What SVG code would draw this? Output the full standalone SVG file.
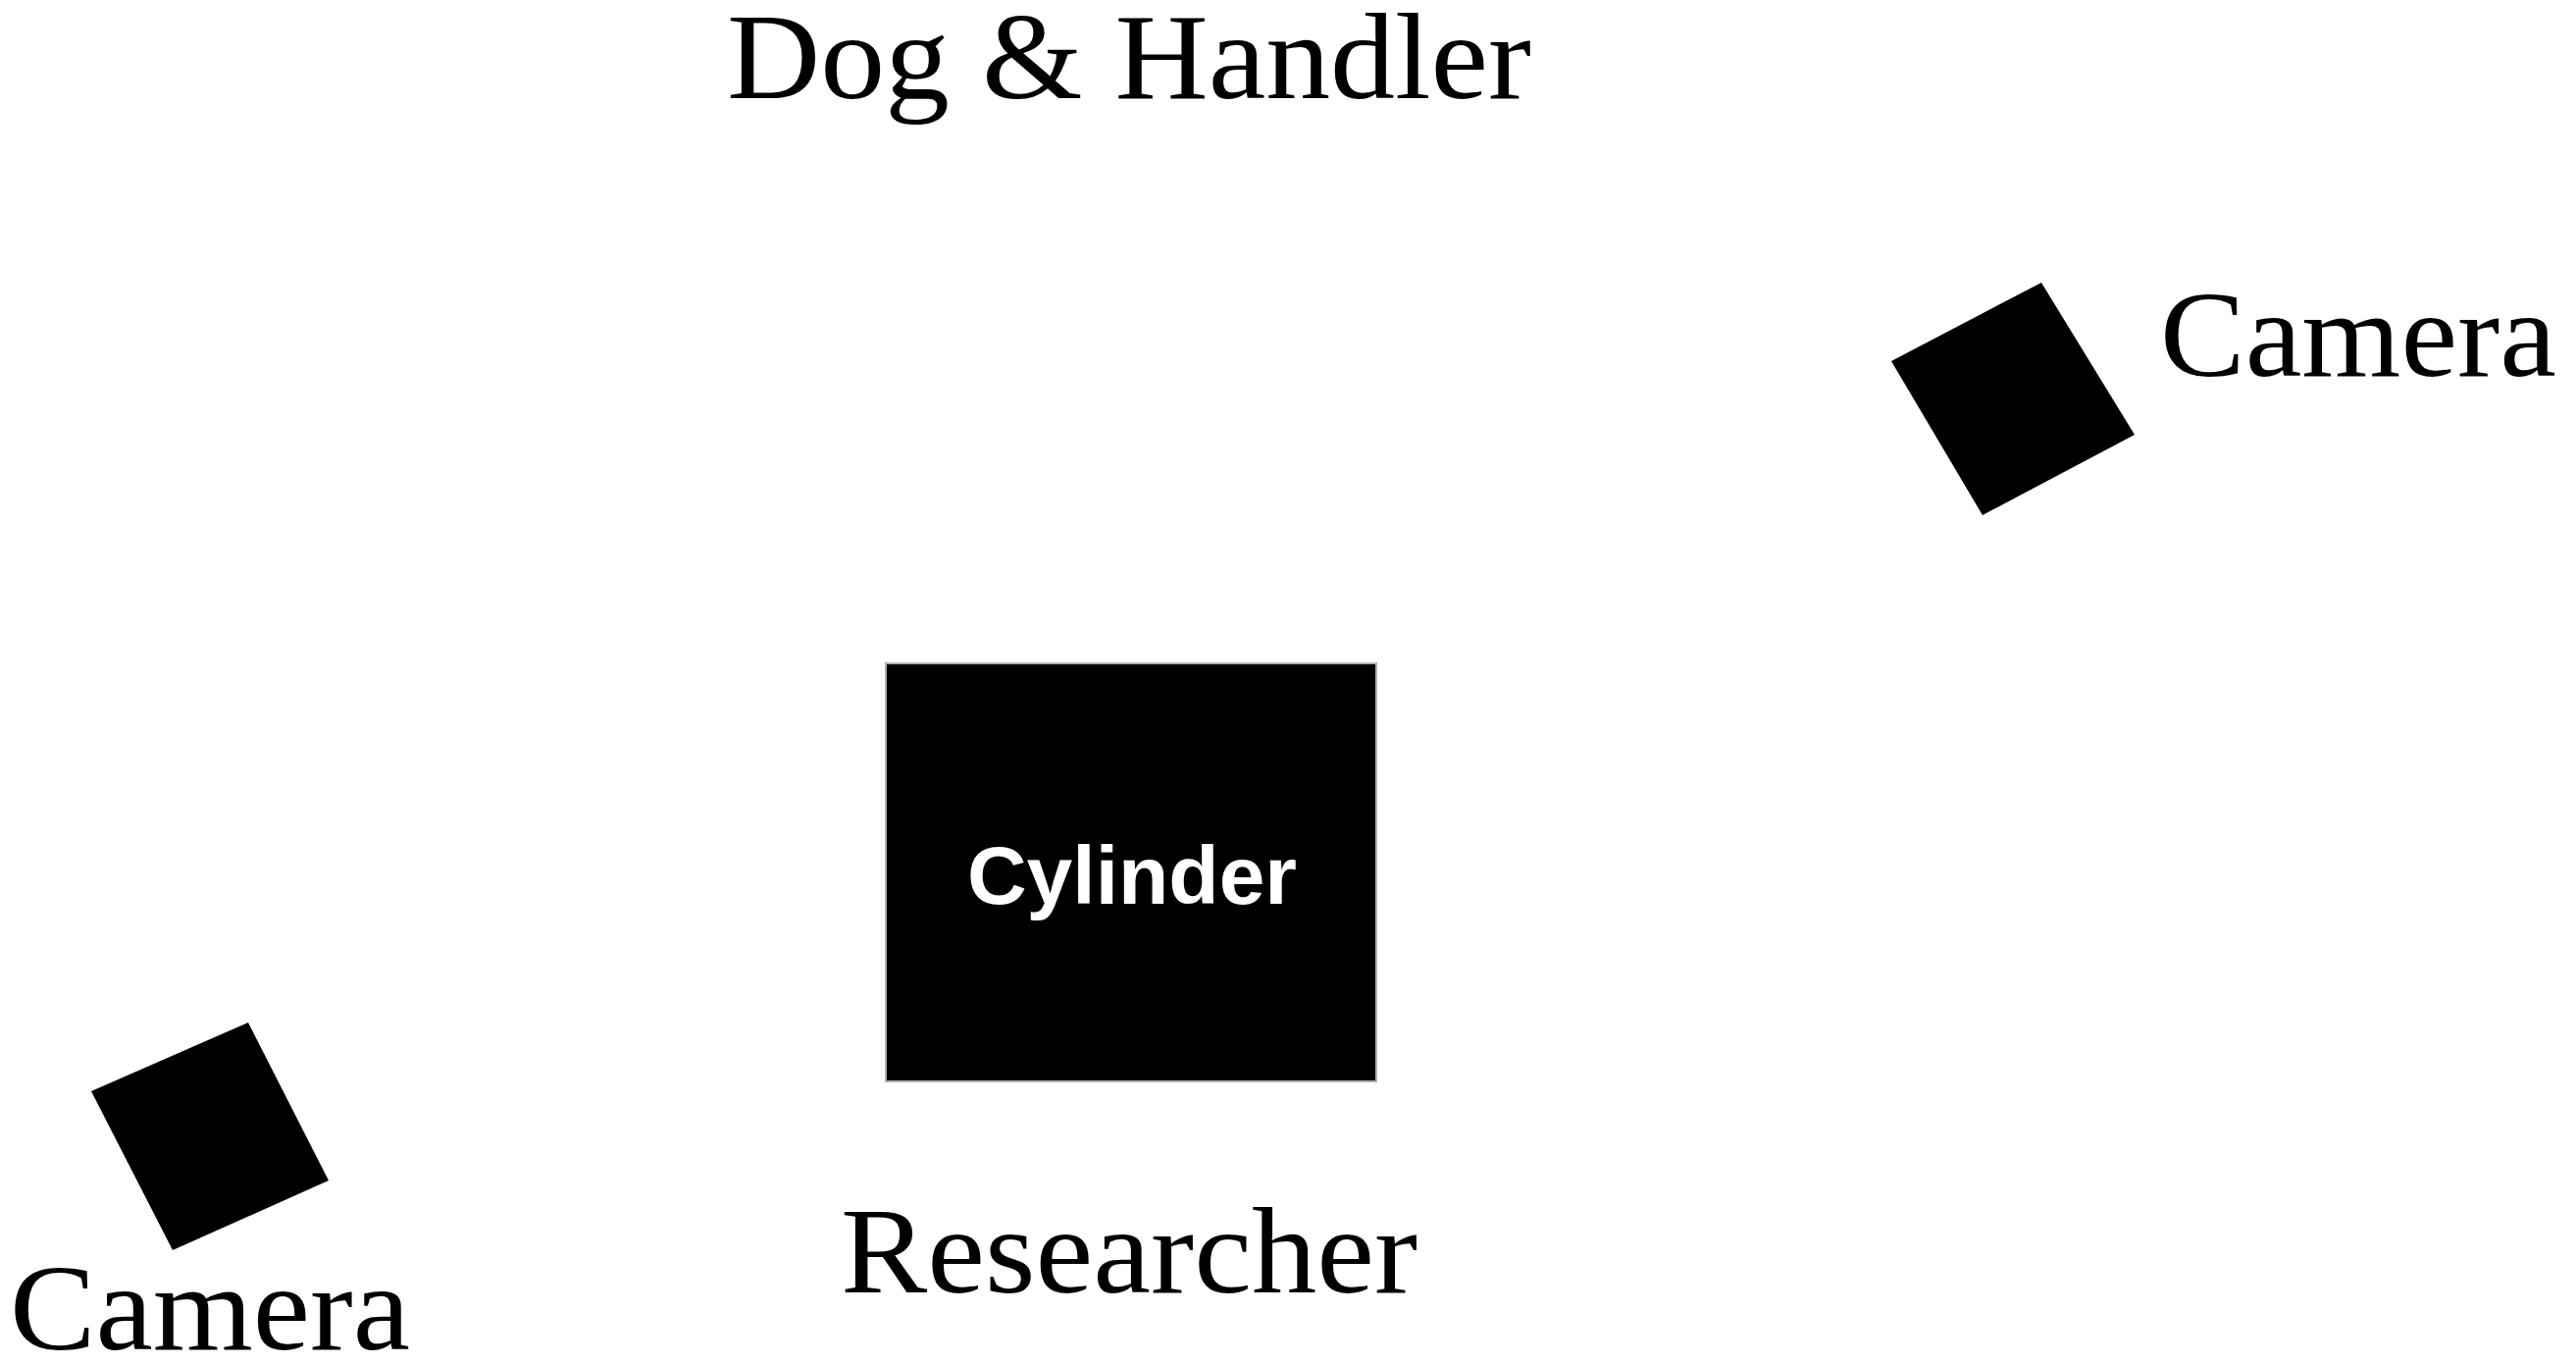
<svg xmlns="http://www.w3.org/2000/svg" width="2626" height="1391" viewBox="0 0 2626 1391">
  <style>
    .lbl { font-family: "Liberation Serif", "Times New Roman", serif; font-size: 124px; fill: #000; }
    .cam { fill: #000; }
    .cyl { fill: #000; stroke: #b0b0b0; stroke-width: 2; }
    .cyltxt { font-family: "Liberation Sans", Arial, sans-serif; font-size: 84px; font-weight: bold; fill: #fff; }
  </style>
  <rect x="0" y="0" width="2626" height="1391" fill="#fff"/>
  <g id="dog-handler">
    <text class="lbl" x="741" y="100" textLength="820" lengthAdjust="spacingAndGlyphs">Dog &amp; Handler</text>
  </g>
  <g id="camera-top-right">
    <polygon class="cam" points="2081,288 2176,443 2021,525 1928,368"/>
    <text class="lbl" x="2202" y="383" textLength="404" lengthAdjust="spacingAndGlyphs">Camera</text>
  </g>
  <g id="cylinder">
    <rect class="cyl" x="903" y="676" width="500" height="426"/>
    <text class="cyltxt" x="1154" y="921" text-anchor="middle">Cylinder</text>
  </g>
  <g id="camera-bottom-left">
    <polygon class="cam" points="253,1042 335,1203 176,1274 93,1112"/>
    <text class="lbl" x="10" y="1375" textLength="408" lengthAdjust="spacingAndGlyphs">Camera</text>
  </g>
  <g id="researcher">
    <text class="lbl" x="857" y="1317" textLength="588" lengthAdjust="spacingAndGlyphs">Researcher</text>
  </g>
  <g id="connectors"></g>
</svg>
